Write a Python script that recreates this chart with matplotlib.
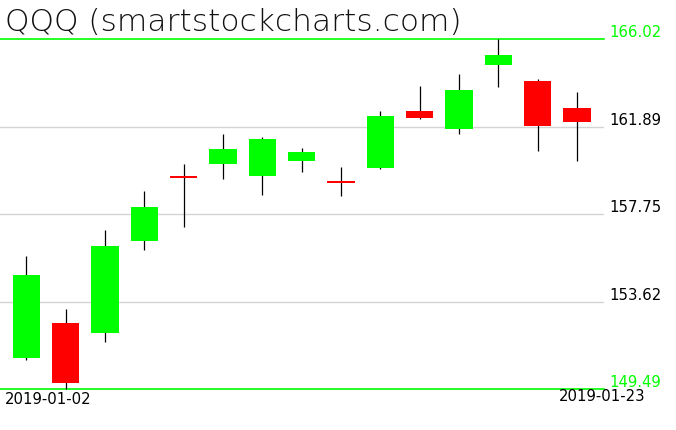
import matplotlib
matplotlib.use('Agg')
import matplotlib.pyplot as plt

# QQQ daily candles, Jan 2019
dates = ['2019-01-02', '2019-01-03', '2019-01-04', '2019-01-07', '2019-01-08',
         '2019-01-09', '2019-01-10', '2019-01-11', '2019-01-14', '2019-01-15',
         '2019-01-16', '2019-01-17', '2019-01-18', '2019-01-22', '2019-01-23']
opens = [150.98, 152.63, 152.16, 156.51, 159.58, 160.14, 159.58, 160.29,
         159.33, 159.95, 162.63, 161.80, 164.82, 164.05, 162.77]
highs = [155.80, 153.28, 157.01, 158.87, 160.13, 161.55, 161.41, 160.89,
         159.99, 162.63, 163.81, 164.38, 166.02, 164.14, 163.53]
lows = [150.86, 149.49, 151.74, 156.08, 157.17, 159.44, 158.68, 159.77,
        158.60, 159.91, 162.27, 161.56, 163.78, 160.76, 160.29]
closes = [154.90, 149.80, 156.27, 158.10, 159.49, 160.84, 161.31, 160.70,
          159.24, 162.40, 162.30, 163.63, 165.28, 161.94, 162.13]

top = max(highs)
bottom = min(lows)
grid_levels = [161.89, 157.75, 153.62]

fig = plt.figure(figsize=(6.76, 4.31), dpi=100)
ax = fig.add_axes([0, 0.0944, 0.893, 0.8121])
ax.set_xlim(-0.67, len(dates) - 1 + 0.68)
ax.set_ylim(bottom, top)
ax.axis('off')

for lvl in grid_levels:
    ax.axhline(lvl, color='#d3d3d3', lw=1.0, zorder=1)
    ax.text(1.01, lvl, f'{lvl:.2f}', transform=ax.get_yaxis_transform(),
            ha='left', va='bottom', fontsize=10.7, color='black')
for lvl in [top, bottom]:
    ax.axhline(lvl, color='#00ff00', lw=1.2, zorder=1, clip_on=False)
    ax.text(1.01, lvl, f'{lvl:.2f}', transform=ax.get_yaxis_transform(),
            ha='left', va='bottom', fontsize=10.7, color='#00ff00')

for i in range(len(dates)):
    o, h, l, c = opens[i], highs[i], lows[i], closes[i]
    col = '#00ff00' if c >= o else '#ff0000'
    ax.vlines(i, l, h, color='black', lw=0.9, zorder=2, clip_on=False)
    ax.bar(i, abs(c - o), bottom=min(o, c), width=0.695, color=col,
           zorder=3, clip_on=False)

fig.text(5 / 676, 1 - 8 / 431, 'QQQ (smartstockcharts.com)', ha='left', va='top',
         fontsize=22.5, fontweight='light', color='#111111')
fig.text(5 / 676, 1 - 392 / 431, dates[0], ha='left', va='top', fontsize=10.7)
fig.text(646 / 676, 1 - 389 / 431, dates[-1], ha='right', va='top', fontsize=10.7)

fig.savefig('out.png', dpi=100)
